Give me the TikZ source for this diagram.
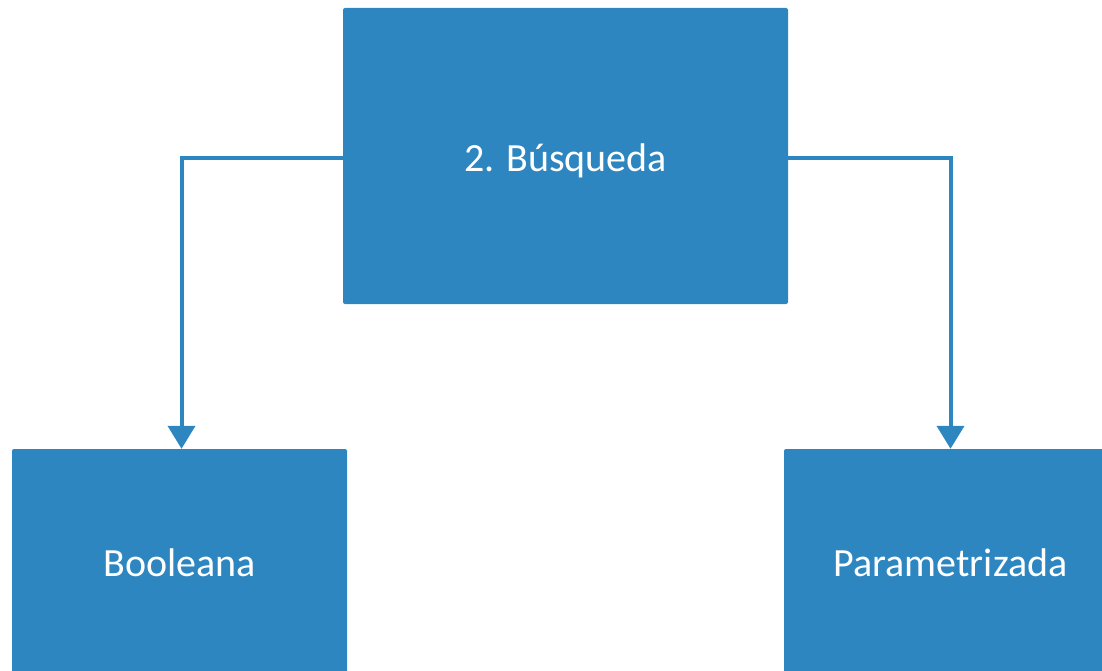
\documentclass[tikz,border=0pt]{standalone}
\usepackage{fontspec}
\setmainfont{Carlito}
\usetikzlibrary{arrows.meta}
\definecolor{boxblue}{RGB}{46,134,193}
\tikzset{
  blk/.style={fill=boxblue, rounded corners=2pt, inner sep=0pt, text=white,
    font=\fontsize{40}{48}\selectfont},
  conn/.style={draw=boxblue, line width=4pt, -{Triangle[width=27pt,length=23pt]}}
}
\begin{document}
\begin{tikzpicture}[x=1pt,y=-1pt]
        \useasboundingbox (0,0) rectangle (1102,671);
        \clip (0,0) rectangle (1102,671);
        \node[blk, minimum width=445pt, minimum height=296pt] (busq) at (565.5,156) {\raisebox{-5pt}[\height][\depth]{2. Búsqueda}};
        \node[blk, minimum width=335pt, minimum height=228pt] (bool) at (179.5,563) {Booleana};
        \node[blk, minimum width=333pt, minimum height=228pt] (param) at (950.5,563) {Parametrizada};
        \draw[conn] ([yshift=-2pt]busq.west) -| ([xshift=2pt]bool.north);
        \draw[conn] ([yshift=-2pt]busq.east) -| (param.north);
    \end{tikzpicture}
\end{document}
